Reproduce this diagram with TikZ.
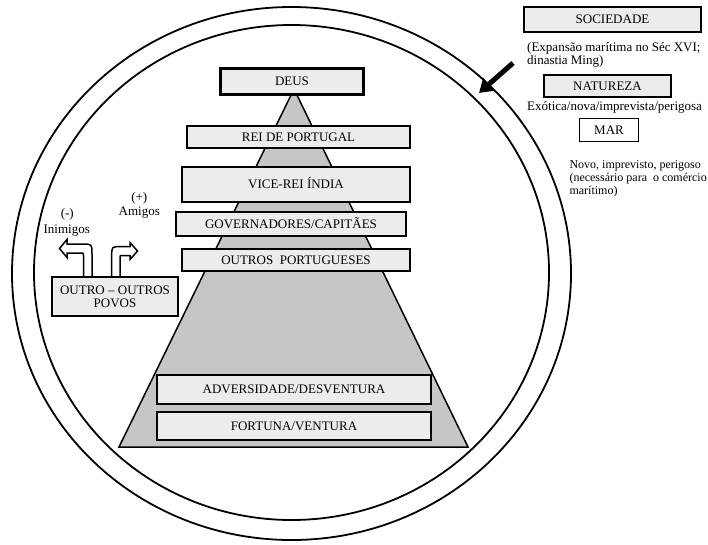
\documentclass[tikz,border=0pt]{standalone}
\usepackage{fontspec}
\setmainfont{Liberation Serif}
\usetikzlibrary{arrows.meta}
\definecolor{boxfill}{RGB}{236,236,236}
\definecolor{pyrfill}{RGB}{198,198,198}
\begin{document}
\begin{tikzpicture}[x=1pt,y=-1pt,
  basebox/.style={draw, fill=boxfill, line width=2pt, inner sep=0pt, font=\fontsize{13}{13}\selectfont},
  box/.style={basebox, text height=8.6pt, text depth=0pt},
  txt/.style={inner sep=0pt, font=\fontsize{13}{13}\selectfont},
  smalltxt/.style={inner sep=0pt, font=\fontsize{12}{13}\selectfont},
  ring/.style={line width=1.8pt},
  bent/.style={draw, fill=white, line width=1.5pt, line join=miter}]
\useasboundingbox (0,0) rectangle (708,545);
% rings
\draw[ring] (291.5,273.5) ellipse [x radius=279.5pt, y radius=266.5pt];
\draw[ring] (291.5,272.5) ellipse [x radius=257.5pt, y radius=247.5pt];
% pyramid
\filldraw[fill=pyrfill, draw=black, line width=1.5pt] (294,89) -- (468,447) -- (119,447) -- cycle;
% bent arrows
\path[bent] (83.5,277) -- (83.5,255.5) .. controls (83.5,253) .. (81,253) -- (67,253) -- (67,257.5) -- (59.5,248.5) -- (67,239.5) -- (67,244) -- (82,244) .. controls (92,244) .. (92,254) -- (92,277);
\path[bent] (111.7,277) -- (111.7,256) .. controls (111.7,246.5) .. (121.7,246.5) -- (130,246.5) -- (130,242.5) -- (137.5,251) -- (130,259.5) -- (130,255.5) -- (122.5,255.5) .. controls (120,255.5) .. (120,258) -- (120,277);
% pyramid boxes
\node[box, line width=3pt, minimum width=143pt, minimum height=26pt] (deus) at (292,81.5) {DEUS};
\node[box, minimum width=223pt, minimum height=22pt] (rei) at (298.5,137) {REI DE PORTUGAL};
\node[box, minimum width=228pt, minimum height=35pt] (vice) at (296,184.5) {VICE-REI ÍNDIA};
\node[box, minimum width=230pt, minimum height=24pt] (gov) at (291,224) {GOVERNADORES/CAPITÃES};
\node[box, minimum width=228pt, minimum height=22pt] (outpt) at (296,260) {OUTROS\ \ PORTUGUESES};
\node[box, minimum width=274pt, minimum height=29pt] (adv) at (294,389.5) {ADVERSIDADE/DESVENTURA};
\node[box, minimum width=274pt, minimum height=28pt] (fort) at (294,426) {FORTUNA/VENTURA};
% other peoples
\node[basebox, align=center, minimum width=126pt, minimum height=39pt] (outro) at (115,296.5) {OUTRO -- OUTROS\\POVOS};
\node[txt, anchor=base] (plus) at (139.3,201) {(+)};
\node[txt, anchor=base] (amigos) at (139.3,215.5) {Amigos};
\node[txt, anchor=base] (minus) at (67.3,218) {(-)};
\node[txt, anchor=base] (inimigos) at (66.7,233.6) {Inimigos};
% right side legend
\node[box, line width=2.5pt, minimum width=177pt, minimum height=25pt] (soc) at (612.5,19.5) {SOCIEDADE};
\node[txt, anchor=base west] (socd1) at (527,52) {(Expansão marítima no Séc XVI;};
\node[txt, anchor=base west] (socd2) at (527,64.5) {dinastia Ming)};
\node[box, line width=2.5pt, minimum width=127pt, minimum height=22pt] (nat) at (607.5,86) {NATUREZA};
\node[txt, anchor=base west] (natd) at (527,111) {Exótica/nova/imprevista/perigosa};
\node[box, fill=white, line width=1.5pt, minimum width=59pt, minimum height=23pt] (mar) at (609,130) {MAR};
\node[smalltxt, anchor=base west] (mard1) at (569.3,168.5) {Novo, imprevisto, perigoso};
\node[smalltxt, anchor=base west] (mard2) at (569.3,181.5) {(necessário para\ \ o comércio};
\node[smalltxt, anchor=base west] (mard3) at (569.3,194.5) {marítimo)};
% society arrow
\coordinate (atail) at (513,63);
\coordinate (ahead) at (479,93);
\draw[line width=5pt, -{Triangle[length=13pt,width=16pt]}] (atail) -- (ahead);
\end{tikzpicture}
\end{document}
